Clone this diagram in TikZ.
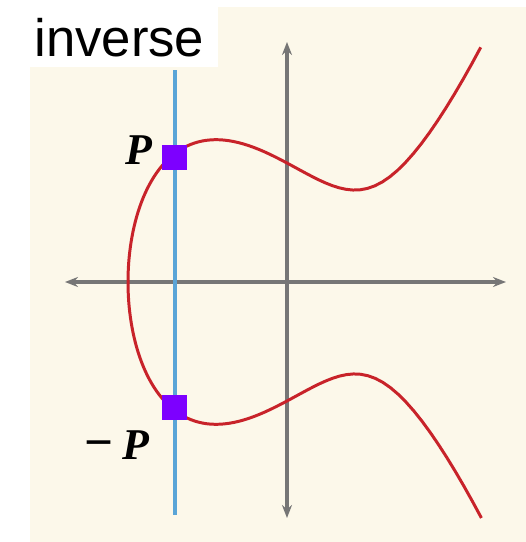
\documentclass[tikz,border=0pt]{standalone}
\usepackage{fontspec}
\newfontfamily\tagfont{Liberation Sans}
\newfontfamily\ptfont{Liberation Serif}
\usetikzlibrary{arrows.meta,positioning}
\definecolor{cream}{RGB}{252,248,234}
\definecolor{axisgray}{RGB}{118,118,118}
\definecolor{curvered}{RGB}{200,35,42}
\definecolor{lineblue}{RGB}{90,165,215}
\definecolor{dotviolet}{RGB}{125,0,255}

\begin{document}
\begin{tikzpicture}[>={Stealth[length=2.6mm,width=2mm]},x=2cm,y=2cm,
    declare function={cx(\t)=-1.59+\t*\t; cy(\t)=\t*sqrt(0.8815*cx(\t)*cx(\t)-1.3615*cx(\t)+0.8905);}]
  \tikzstyle{axis}=[draw=axisgray,line width=1.8pt]
  \tikzstyle{vline}=[draw=lineblue,line width=2.6pt]
  \tikzstyle{curve}=[draw=curvered,line width=1.7pt]
  \tikzstyle{dot}=[fill=dotviolet,inner sep=0pt,minimum size=5mm]
  \tikzstyle{ptlabel}=[inner sep=0pt,font=\ptfont\bfseries\fontsize{25}{30}\selectfont]
  \tikzstyle{tag}=[fill=white,anchor=north west,inner xsep=0.8mm,text width=3.6cm,minimum height=1.2cm,align=left,font=\tagfont\fontsize{30}{36}\selectfont]
  \useasboundingbox (-2.87,-2.60) rectangle (2.39,2.82);
  \fill[cream] (-2.57,-2.60) rectangle (2.39,2.75);
  % axes
  \coordinate (xl) at (-2.22,0);
  \coordinate (xr) at (2.19,0);
  \coordinate (yb) at (0,-2.36);
  \coordinate (yt) at (0,2.40);
  \draw[axis,<->] (xl) -- (xr);
  \draw[axis,<->] (yb) -- (yt);
  % vertical line through P and -P
  \coordinate (vt) at (-1.12,2.12);
  \coordinate (vb) at (-1.12,-2.33);
  \draw[vline] (vt) -- (vb);
  \draw[curve] plot[domain=-1.88:1.88,samples=160,variable=\t] ({cx(\t)},{cy(\t)});
  \node[dot] (p) at (-1.12,1.25) {};
  \node[dot] (mp) at (-1.12,-1.25) {};
  \node[ptlabel,left=1.9mm of p,yshift=1.4mm] (lp) {\itshape P};
  \node[ptlabel,below left=2.1mm and 2.5mm of mp] (lmp) {{\fontsize{29}{30}\selectfont −}\hspace{0.2em}{\itshape P}};
  \node[tag] (inv) at (-2.57,2.75) {inverse};
\end{tikzpicture}
\end{document}
